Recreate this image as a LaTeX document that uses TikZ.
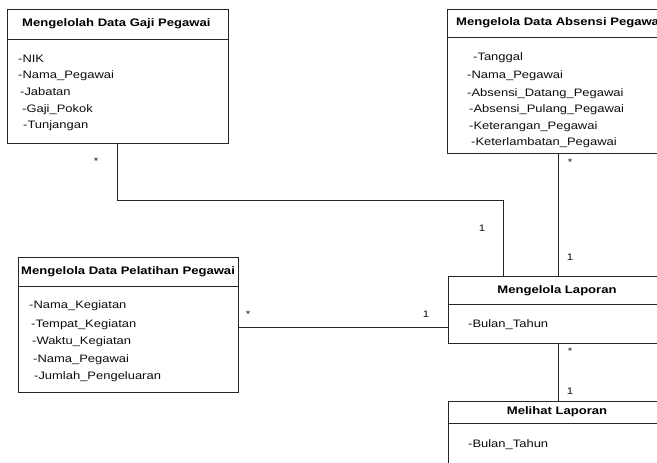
\documentclass[tikz,border=0pt]{standalone}
\usepackage{fontspec}
\newfontfamily\umlfont{Liberation Sans}[FakeStretch=1.2]
\begin{document}
\begin{tikzpicture}[x=1pt,y=-1pt,
  ink/.style={draw=black!85,line width=0.9pt},
  classbox/.style={ink,rectangle,inner sep=0pt,anchor=north west},
  title/.style={font=\umlfont\bfseries\fontsize{10.9}{12}\selectfont,text=black,inner sep=0pt},
  attr/.style={font=\umlfont\fontsize{10.8}{12}\selectfont,text=black!95,inner sep=0pt,anchor=base west},
  mult/.style={font=\umlfont\fontsize{9.5}{10}\selectfont,text=black!95,inner sep=0pt}]
\useasboundingbox (0,0) rectangle (657,463);
\clip (0,0) rectangle (657,463);
\fill[white] (0,0) rectangle (657,463);

% class boxes
\node[classbox,minimum width=221pt,minimum height=134pt] (gaji) at (7,9) {};
\node[classbox,minimum width=219pt,minimum height=144pt] (absensi) at (447,9) {};
\node[classbox,minimum width=220pt,minimum height=135pt] (pelatihan) at (18,257) {};
\node[classbox,minimum width=218pt,minimum height=67pt] (laporan) at (448,276) {};
\node[classbox,minimum width=218pt,minimum height=90pt] (melihat) at (448,401) {};

% compartment separators
\draw[ink] ([yshift=-30pt]gaji.north west) -- ([yshift=-30pt]gaji.north east);
\draw[ink] ([yshift=-28pt]absensi.north west) -- ([yshift=-28pt]absensi.north east);
\draw[ink] ([yshift=-29pt]pelatihan.north west) -- ([yshift=-29pt]pelatihan.north east);
\draw[ink] ([yshift=-28pt]laporan.north west) -- ([yshift=-28pt]laporan.north east);
\draw[ink] ([yshift=-22pt]melihat.north west) -- ([yshift=-22pt]melihat.north east);

% titles
\node[title,anchor=west] (gaji-t) at (22,24) {Mengelolah Data Gaji Pegawai};
\node[title,anchor=west] (absensi-t) at (456,23) {Mengelola Data Absensi Pegawai};
\node[title,anchor=west] (pelatihan-t) at (21,272) {Mengelola Data Pelatihan Pegawai};
\node[title] (laporan-t) at (557,291) {Mengelola Laporan};
\node[title] (melihat-t) at (557,412) {Melihat Laporan};

% attributes
\node[attr] (g1) at (18,62) {-NIK};
\node[attr] (g2) at (18,78) {-Nama\_Pegawai};
\node[attr] (g3) at (20,95) {-Jabatan};
\node[attr] (g4) at (22,112) {-Gaji\_Pokok};
\node[attr] (g5) at (23,128) {-Tunjangan};

\node[attr] (a1) at (473,60) {-Tanggal};
\node[attr] (a2) at (467,78) {-Nama\_Pegawai};
\node[attr] (a3) at (467,96) {-Absensi\_Datang\_Pegawai};
\node[attr] (a4) at (469,112) {-Absensi\_Pulang\_Pegawai};
\node[attr] (a5) at (469,129) {-Keterangan\_Pegawai};
\node[attr] (a6) at (471,145) {-Keterlambatan\_Pegawai};

\node[attr] (p1) at (29,308) {-Nama\_Kegiatan};
\node[attr] (p2) at (31,327) {-Tempat\_Kegiatan};
\node[attr] (p3) at (32,344) {-Waktu\_Kegiatan};
\node[attr] (p4) at (33,362) {-Nama\_Pegawai};
\node[attr] (p5) at (34,379) {-Jumlah\_Pengeluaran};

\node[attr] (l1) at (468,327) {-Bulan\_Tahun};
\node[attr] (m1) at (468,447) {-Bulan\_Tahun};

% associations
\coordinate (bend) at (117,200);
\draw[ink] (gaji.south -| bend) -- (bend) -| ([xshift=55pt]laporan.north west);
\draw[ink] ([xshift=111pt]absensi.south west) -- ([xshift=110pt]laporan.north west);
\coordinate (pl) at ([yshift=-2.5pt]pelatihan.east);
\draw[ink] (pl) -- (laporan.west |- pl);
\draw[ink] ([xshift=110pt]laporan.south west) -- ([xshift=110pt]melihat.north west);

% multiplicities
\node[mult] (m-g) at (96,161) {*};
\node[mult] (m-gl) at (482,228) {1};
\node[mult] (m-a) at (570,162) {*};
\node[mult] (m-al) at (570,257) {1};
\node[mult] (m-p) at (248,314) {*};
\node[mult] (m-pl) at (426,314) {1};
\node[mult] (m-l) at (570,351) {*};
\node[mult] (m-lm) at (570,391) {1};
\end{tikzpicture}
\end{document}
